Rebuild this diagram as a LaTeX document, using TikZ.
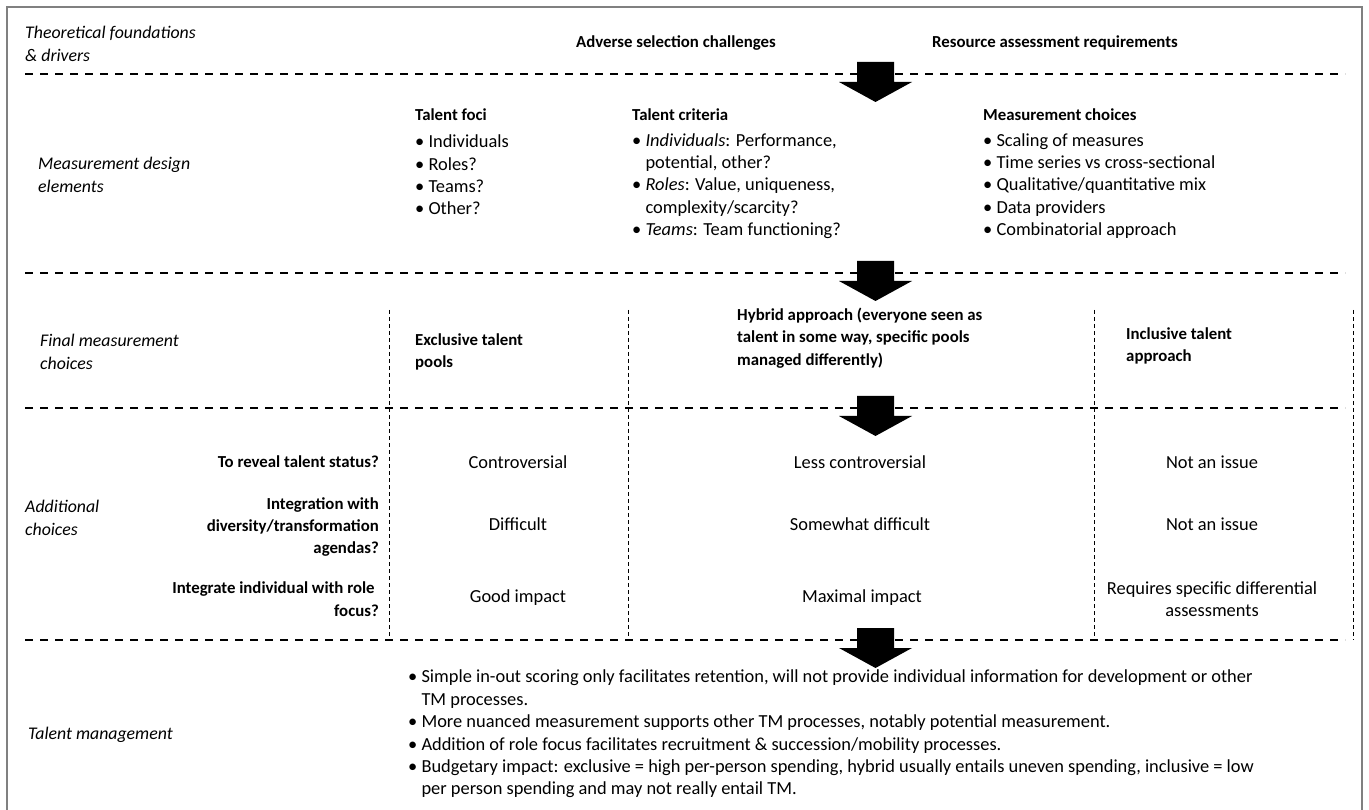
\documentclass[tikz,border=0pt]{standalone}
\usepackage{fontspec}
\setmainfont{Carlito}
\usetikzlibrary{positioning}

\newcommand{\bitem}{\textbullet\ }
\newcommand{\bcont}{\phantom{\textbullet\ }}

\begin{document}
\begin{tikzpicture}[x=1pt,y=-1pt,
  every node/.style={inner sep=0pt, font=\fontsize{18.4}{22.4}\selectfont},
  rowlabel/.style={anchor=west, align=left, font=\fontsize{17.8}{22.4}\selectfont\itshape},
  head/.style={font=\fontsize{16.8}{22.4}\selectfont\bfseries},
  cell/.style={align=center},
  frame/.style={gray, line width=1.5pt},
  sepline/.style={black, line width=1.4pt, dash pattern=on 8pt off 7pt},
  colline/.style={black, line width=0.9pt, dash pattern=on 4pt off 3pt},
  blockarrow/.style={fill=black}]
  \useasboundingbox (0,0) rectangle (1369,810);

  % Outer frame (open at the bottom)
  \draw[frame] (7,810) -- (7,7) -- (1362,7) -- (1362,810);

  % Row separators with the downward block arrows
  \foreach \d in {74,273,408,640}{
    \draw[sepline] (25,\d) -- (1345,\d);
    \fill[blockarrow] (857,\d-12) -- (894,\d-12) -- (894,\d+8) -- (912,\d+8)
      -- (875.5,\d+28) -- (839,\d+8) -- (857,\d+8) -- cycle;
  }

  % Column separators
  \foreach \x in {389,628,1094,1353}
    \draw[colline] (\x,310) -- (\x,640);

  % Theoretical foundations
  \node[rowlabel] (theory) at (25,44) {Theoretical foundations\\\& drivers};
  \node[head] (adverse) at (676,43) {Adverse selection challenges};
  \node[head] (resource) at (1055,43) {Resource assessment requirements};

  % Measurement design elements
  \node[rowlabel] (design) at (38,175) {Measurement design\\elements};
  \node[head, anchor=west] (foci) at (415,115) {Talent foci};
  \node[head, anchor=west] (criteria) at (632,115) {Talent criteria};
  \node[head, anchor=west] (choices) at (983,115) {Measurement choices};
  \node[anchor=west, align=left] (focilist) at (415,175)
    {\bitem Individuals\\\bitem Roles?\\\bitem Teams?\\\bitem Other?};
  \node[anchor=west, align=left] (critlist) at (632,186)
    {\bitem\textit{Individuals}: Performance,\\\bcont potential, other?\\
     \bitem\textit{Roles}: Value, uniqueness,\\\bcont complexity/scarcity?\\
     \bitem\textit{Teams}: Team functioning?};
  \node[anchor=west, align=left] (choicelist) at (983,186)
    {\bitem Scaling of measures\\\bitem Time series vs cross-sectional\\
     \bitem Qualitative/quantitative mix\\\bitem Data providers\\
     \bitem Combinatorial approach};

  % Final measurement choices
  \node[rowlabel] (final) at (40,352) {Final measurement\\choices};
  \node[head, anchor=west, align=left] (exclusive) at (415,352) {Exclusive talent\\pools};
  \node[head, anchor=west, align=left] (hybrid) at (737,338)
    {Hybrid approach (everyone seen as\\talent in some way, specific pools\\managed differently)};
  \node[head, anchor=west, align=left] (inclusive) at (1126,346) {Inclusive talent\\approach};

  % Additional choices
  \node[rowlabel] (additional) at (25,518) {Additional\\choices};
  \node[head, anchor=east, align=right] (reveal) at (379,462) {To reveal talent status?};
  \node[head, anchor=east, align=right] (integration) at (379,527)
    {Integration with\\diversity/transformation\\agendas?};
  \node[head, anchor=east, align=right] (integrate) at (379,599)
    {Integrate individual with role\hspace*{0.25em}\\focus?};

  \node[cell] (controv) at (518,462) {Controversial};
  \node[cell] (lesscontrov) at (860,462) {Less controversial};
  \node[cell] (noissuea) at (1212,462) {Not an issue};
  \node[cell] (difficult) at (518,524) {Difficult};
  \node[cell] (somewhat) at (860,524) {Somewhat difficult};
  \node[cell] (noissueb) at (1212,524) {Not an issue};
  \node[cell] (goodimp) at (518,598) {Good impact};
  \node[cell] (maximp) at (862,598) {Maximal impact};
  \node[cell] (requires) at (1212,599) {Requires specific differential\\assessments};

  % Talent management
  \node[rowlabel] (tm) at (28,735) {Talent management};
  \node[anchor=west, align=left] (tmlist) at (408,734)
    {\bitem Simple in-out scoring only facilitates retention, will not provide individual information for development or other\\
     \bcont TM processes.\\
     \bitem More nuanced measurement supports other TM processes, notably potential measurement.\\
     \bitem Addition of role focus facilitates recruitment \& succession/mobility processes.\\
     \bitem Budgetary impact: exclusive = high per-person spending, hybrid usually entails uneven spending, inclusive = low\\
     \bcont per person spending and may not really entail TM.};
\end{tikzpicture}
\end{document}
